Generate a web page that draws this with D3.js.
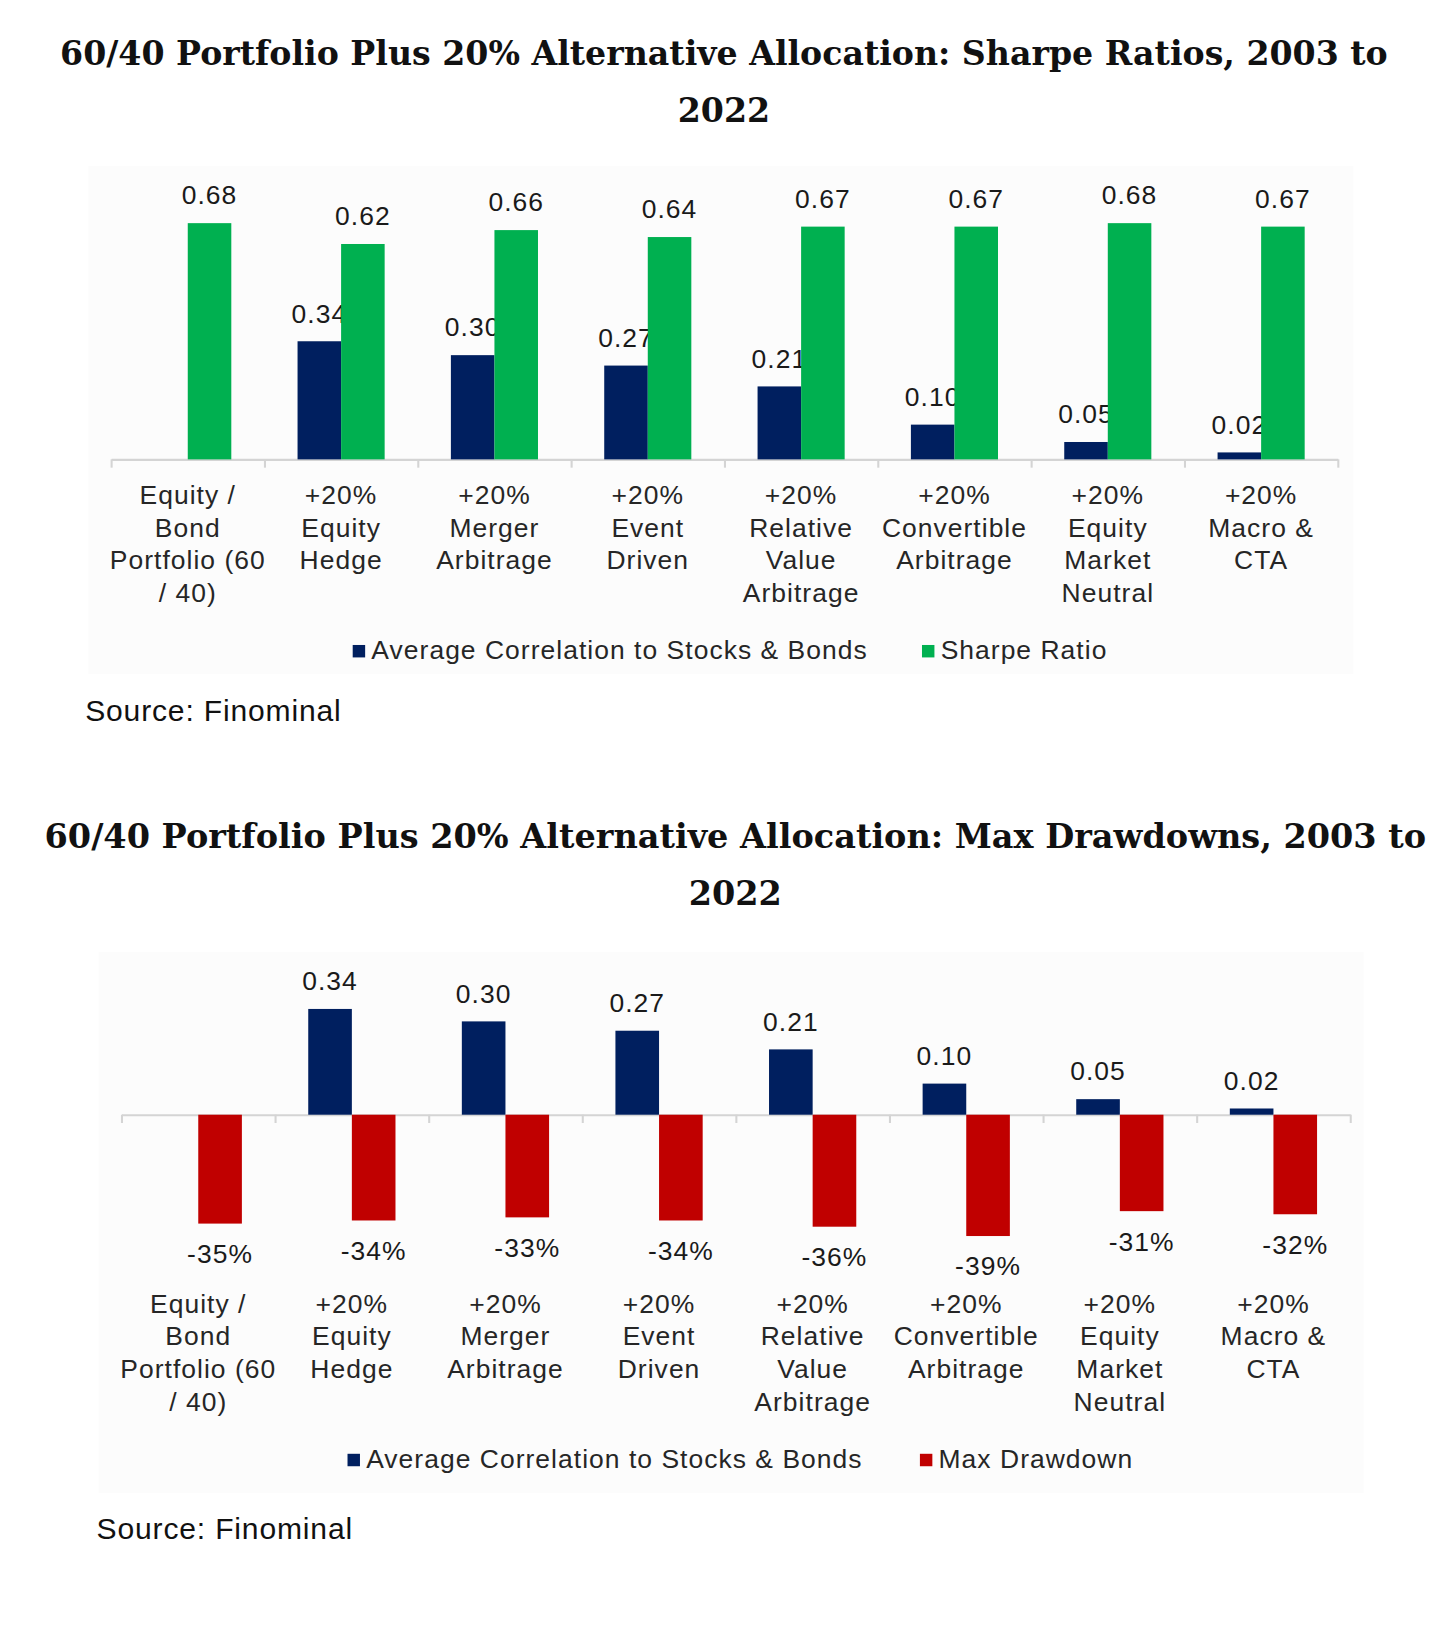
<!DOCTYPE html>
<html>
<head>
<meta charset="utf-8">
<script src="https://cdn.jsdelivr.net/npm/d3@7"></script>
<style>
  body { margin: 0; background: #fff; }
  text { font-family: "Liberation Sans", Arial, sans-serif; }
  .title { font-family: "DejaVu Serif", Georgia, serif; font-weight: bold; fill: #111; }
</style>
</head>
<body>
<script>
//chart values
var catLines = [
    ["Equity /", "Bond", "Portfolio (60", "/ 40)"],
    ["+20%", "Equity", "Hedge"],
    ["+20%", "Merger", "Arbitrage"],
    ["+20%", "Event", "Driven"],
    ["+20%", "Relative", "Value", "Arbitrage"],
    ["+20%", "Convertible", "Arbitrage"],
    ["+20%", "Equity", "Market", "Neutral"],
    ["+20%", "Macro &", "CTA"]
];
var correlation = [null, 0.34, 0.30, 0.27, 0.21, 0.10, 0.05, 0.02];
var sharpe = [0.68, 0.62, 0.66, 0.64, 0.67, 0.67, 0.68, 0.67];
var drawdown = [-0.35, -0.34, -0.33, -0.34, -0.36, -0.39, -0.31, -0.32];

var title1 = ["60/40 Portfolio Plus 20% Alternative Allocation: Sharpe Ratios, 2003 to", "2022"];
var title2 = ["60/40 Portfolio Plus 20% Alternative Allocation: Max Drawdowns, 2003 to", "2022"];
var legend1 = ["Average Correlation to Stocks & Bonds", "Sharpe Ratio"];
var legend2 = ["Average Correlation to Stocks & Bonds", "Max Drawdown"];

var navy = "#001f5f", green = "#00b050", red = "#c00000";

//svg drawn in a 1400 x 1570 space, stretched to the window
var svg = d3.select("body").append("svg")
    .attr("width", 1452)
    .attr("height", 1628)
    .attr("viewBox", "0 0 1400 1570");

function drawChart(opt){
    var g = svg.append("g");

    //faint panel behind the chart
    g.append("rect")
        .attr("x", opt.panel[0]).attr("y", opt.panel[1])
        .attr("width", opt.panel[2]).attr("height", opt.panel[3])
        .style("fill", "#fcfcfc");

    //title
    g.selectAll(".title")
        .data(opt.title)
        .enter()
        .append("text")
        .attr("class", "title")
        .attr("x", opt.titleX)
        .attr("y", function(d, i){ return opt.titleY + i * 55; })
        .attr("text-anchor", "middle")
        .style("font-size", opt.titleSize)
        .text(function(d){ return d; });

    var cats = d3.range(catLines.length);
    var x = d3.scaleBand().domain(cats).range([opt.x0, opt.x1]);
    var bw = x.bandwidth();
    var sub = d3.scaleBand().domain([0, 1]).range([bw * 0.216, bw * 0.784]);
    var y = d3.scaleLinear().domain([0, 1]).range([opt.base, opt.base - opt.unit]);

    //axis with ticks on the category edges
    var edge = d3.scaleLinear().domain([0, cats.length]).range([opt.x0, opt.x1]);
    var axis = g.append("g")
        .attr("transform", "translate(0," + opt.base + ")")
        .call(d3.axisBottom(edge).tickValues(d3.range(cats.length + 1)).tickSize(8).tickSizeOuter(0).tickFormat(""));
    axis.selectAll("path, line").style("stroke", "#d4d4d4").style("stroke-width", "2px");

    //bars
    var series = [correlation, opt.second];
    var colors = [navy, opt.color2];
    series.forEach(function(vals, s){
        var pts = cats.filter(function(i){ return vals[i] != null; });
        g.selectAll(".bar" + s)
            .data(pts)
            .enter()
            .append("rect")
            .attr("x", function(i){ return x(i) + sub(s); })
            .attr("width", sub.bandwidth())
            .attr("y", function(i){ return Math.min(y(vals[i]), y(0)); })
            .attr("height", function(i){ return Math.abs(y(vals[i]) - y(0)); })
            .style("fill", colors[s]);

        g.selectAll(".lab" + s)
            .data(pts)
            .enter()
            .append("text")
            .attr("x", function(i){ return x(i) + sub(s) + sub.bandwidth() / 2; })
            .attr("y", function(i){ return vals[i] >= 0 ? y(vals[i]) - 18 : y(vals[i]) + 38; })
            .attr("text-anchor", "middle")
            .style("font-size", "25.5px")
            .style("letter-spacing", "1px")
            .style("fill", "#1a1a1a")
            .text(function(i){ return vals[i] >= 0 ? vals[i].toFixed(2) : Math.round(vals[i] * 100) + "%"; });
    });

    //category labels
    var labs = g.selectAll(".cat")
        .data(cats)
        .enter()
        .append("text")
        .attr("text-anchor", "middle")
        .style("font-size", "25.5px")
        .style("letter-spacing", "1px")
        .style("fill", "#262626")
        .attr("transform", function(i){ return "translate(" + (x(i) + bw / 2) + "," + opt.catY + ")"; });
    labs.selectAll("tspan")
        .data(function(i){ return catLines[i]; })
        .enter()
        .append("tspan")
        .attr("x", 0)
        .attr("y", function(d, k){ return k * 31.5; })
        .text(function(d){ return d; });

    //legend
    opt.legend.forEach(function(name, k){
        g.append("rect")
            .attr("x", opt.legX[k]).attr("y", opt.legY - 14)
            .attr("width", 12).attr("height", 12)
            .style("fill", colors[k]);
        g.append("text")
            .attr("x", opt.legX[k] + 18).attr("y", opt.legY)
            .style("font-size", "25.5px")
            .style("letter-spacing", "1px")
            .style("fill", "#262626")
            .text(name);
    });

    //source
    g.append("text")
        .attr("x", opt.srcX).attr("y", opt.srcY)
        .style("font-size", "29px")
        .style("letter-spacing", "0.8px")
        .style("fill", "#111")
        .text("Source: Finominal");
}

drawChart({
    panel: [85, 160, 1220, 490],
    title: title1, titleX: 698, titleY: 63, titleSize: "32px",
    x0: 107, x1: 1290, base: 443, unit: 335,
    second: sharpe, color2: green,
    catY: 486, legend: legend1, legX: [340, 889], legY: 636,
    srcX: 82, srcY: 695
});

drawChart({
    panel: [95, 918, 1220, 522],
    title: title2, titleX: 709, titleY: 818, titleSize: "32.3px",
    x0: 117, x1: 1302, base: 1075, unit: 300,
    second: drawdown, color2: red,
    catY: 1266, legend: legend2, legX: [335, 887], legY: 1416,
    srcX: 93, srcY: 1484
});
</script>
</body>
</html>
